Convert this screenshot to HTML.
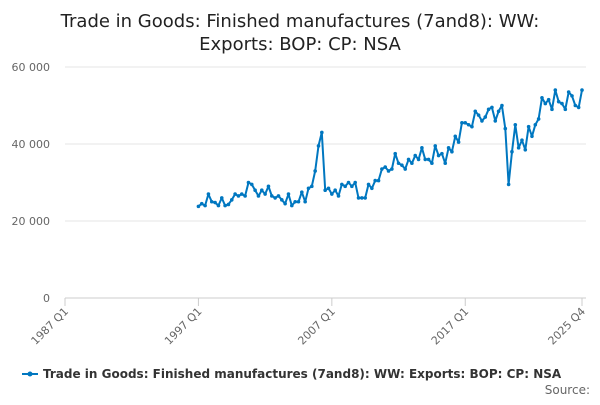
<!DOCTYPE html>
<html><head><meta charset="utf-8"><style>
body{margin:0;background:#fff;font-family:"Liberation Sans","DejaVu Sans",sans-serif;}
svg text{font-family:"DejaVu Sans","Liberation Sans",sans-serif;}
</style></head><body>
<svg id="c" width="600" height="400">
<text x="300" y="27" text-anchor="middle" font-size="18" fill="#222">Trade in Goods: Finished manufactures (7and8): WW:</text>
<text x="300" y="50" text-anchor="middle" font-size="18" fill="#222">Exports: BOP: CP: NSA</text>
<g id="grid"></g>
<g id="xaxis"></g>
<g id="series"></g>
<g>
<line x1="22" y1="374" x2="38" y2="374" stroke="#0077c0" stroke-width="2"/>
<circle cx="30" cy="374" r="2.5" fill="#0077c0"/>
<text x="43" y="378" font-size="12" font-weight="bold" fill="#333">Trade in Goods: Finished manufactures (7and8): WW: Exports: BOP: CP: NSA</text>
</g>
<text x="590" y="394" text-anchor="end" font-size="12" fill="#666">Source:</text>
</svg>
<script>
const yTicks=[0,20000,40000,60000];
const yTickLabels=["0","20 000","40 000","60 000"];
const xTickIdx=[0,40,80,120,155];
const xTickLabels=["1987 Q1","1997 Q1","2007 Q1","2017 Q1","2025 Q4"];
const startIdx=40;
const values=[23.8,24.5,24,27, 25,24.8,24,26, 24,24.3,25.5,27, 26.5,27,26.5,30, 29.5,28,26.5,28, 27,29,26.5,26, 26.5,25.5,24.5,27, 24,25,25,27.5, 25,28.5,29,33, 39.5,43,28,28.5, 27,28,26.5,29.5, 29,30,29,30, 26,26,26,29.5, 28.5,30.5,30.5,33.5, 34,33,33.5,37.5, 35,34.5,33.5,36, 35,37,36,39, 36,36,35,39.5, 37,37.5,35,39, 38,42,40.5,45.5, 45.5,45,44.5,48.5, 47.5,46,47,49, 49.5,46,48.5,50, 44,29.5,38,45, 39,41,38.5,44.5, 42,45,46.5,52, 50.5,51.5,49,54, 51,50.5,49,53.5, 52.5,50,49.5,54].map(v=>v*1000);
const NS="http://www.w3.org/2000/svg";
const x0=65,x1=582,y0=298,y1=67;
const xs=i=>x0+(x1-x0)*i/155;
const ys=v=>y0-(y0-y1)*v/60000;
function mk(t,a,p){const e=document.createElementNS(NS,t);for(const k in a)e.setAttribute(k,a[k]);p.appendChild(e);return e;}
const grid=document.getElementById('grid');
yTicks.forEach((t,i)=>{
 const l=mk('line',{x1:x0,x2:x1+4,y1:ys(t),y2:ys(t),stroke:i==0?'#ccc':'#e6e6e6'},grid);
 
 
 const tx=mk('text',{x:50,y:ys(t)+4,'text-anchor':'end','font-size':11,fill:'#666'},grid);
 tx.textContent=yTickLabels[i];
 
 
});
const xa=document.getElementById('xaxis');
xTickIdx.forEach((q,i)=>{
 const x=xs(q);
 const l=mk('line',{x1:x,x2:x,y1:y0,y2:y0+8,stroke:'#ccc'},xa);
 
 
 const tx=mk('text',{x:x+4,y:y0+14,'text-anchor':'end','font-size':11,fill:'#666',transform:`rotate(-45 ${x+4} ${y0+14})`},xa);
 tx.textContent=xTickLabels[i];
 
 
});
const s=document.getElementById('series');
const pts=values.map((v,i)=>xs(startIdx+i).toFixed(1)+','+ys(v).toFixed(1)).join(' ');
const pl=mk('polyline',{points:pts,fill:'none',stroke:'#0077c0','stroke-width':2,'stroke-linejoin':'round'},s);


values.forEach((v,i)=>{
 const c=mk('circle',{cx:xs(startIdx+i),cy:ys(v),r:1.8,fill:'#0077c0'},s);
 
 
});
</script>
</body></html>
